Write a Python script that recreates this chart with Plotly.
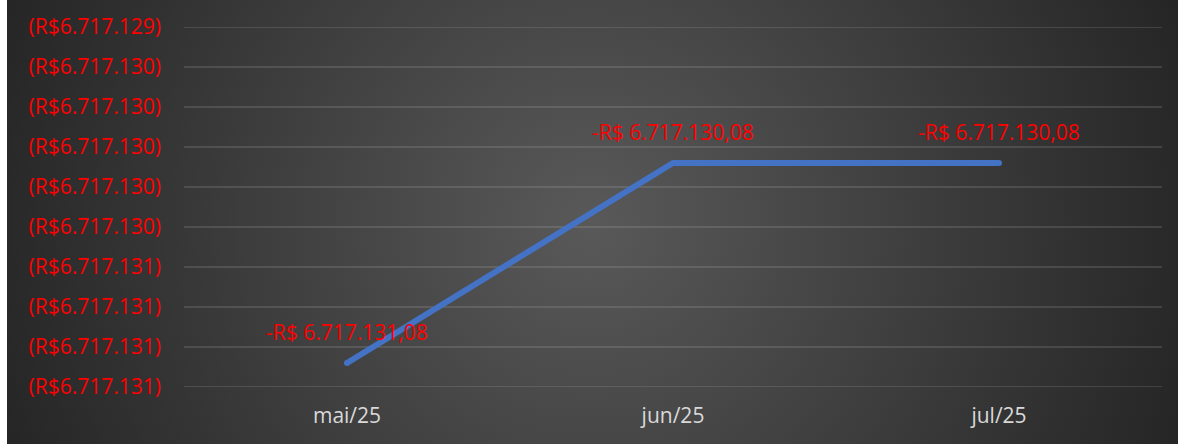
import base64
import plotly.graph_objects as go

# ---- data ----
months = ["mai/25", "jun/25", "jul/25"]
values = [-6717131.08, -6717130.08, -6717130.08]
y_min = -6717131.2
y_max = -6717129.4
y_step = 0.2

def fmt_tick(v):
    n = int(round(abs(v)))
    s = f"{n:,}".replace(",", ".")
    return f"(R${s})"

def fmt_label(v):
    s = f"{abs(v):,.2f}"
    s = s.replace(",", "X").replace(".", ",").replace("X", ".")
    return f"-R$ {s}"

n_ticks = int(round((y_max - y_min) / y_step)) + 1
tickvals = [y_min + i * y_step for i in range(n_ticks)]
ticktext = [fmt_tick(v) for v in tickvals]

W, H = 1178, 444
L, R, T, B = 184, 16, 25, 57
pw, ph = W - L - R, H - T - B

# radial gradient background as svg image (extends slightly past page edges)
BX0, BX1, BY0, BY1 = 7, W + 4, -4, H + 4
bw, bh = BX1 - BX0, BY1 - BY0
cx, cy = 590 - BX0, 222 - BY0
svg = (
    f'<svg xmlns="http://www.w3.org/2000/svg" width="{bw}" height="{bh}" viewBox="0 0 {bw} {bh}" preserveAspectRatio="none">'
    f'<defs><radialGradient id="g" gradientUnits="userSpaceOnUse" cx="{cx}" cy="{cy}" r="630">'
    '<stop offset="0" stop-color="#595959"/><stop offset="1" stop-color="#252525"/>'
    '</radialGradient></defs>'
    f'<rect x="0" y="0" width="{bw}" height="{bh}" fill="url(#g)"/></svg>'
)
src = "data:image/svg+xml;base64," + base64.b64encode(svg.encode()).decode()

x0 = (BX0 - L) / pw
x1 = (BX1 - L) / pw
ytop = (H - B - BY0) / ph
ybot = (H - B - BY1) / ph

fig = go.Figure()

# gridlines drawn at the tick values
for tv in tickvals:
    fig.add_shape(type="line", xref="paper", yref="y", x0=0, x1=1, y0=tv, y1=tv,
                  line=dict(color="rgba(200,200,200,0.22)", width=1.3), layer="below")

fig.add_trace(go.Scatter(
    x=months, y=values, mode="lines",
    line=dict(color="#4472C4", width=6),
    hoverinfo="skip", showlegend=False,
))
fig.add_trace(go.Scatter(
    x=[months[0], months[-1]], y=[values[0], values[-1]], mode="markers",
    marker=dict(color="#4472C4", size=6, line=dict(width=0)),
    hoverinfo="skip", showlegend=False,
))

for m, v in zip(months, values):
    fig.add_annotation(x=m, y=v, text=fmt_label(v), showarrow=False,
                       yshift=31, font=dict(color="#FF0000", size=21, family="Open Sans"))

fig.add_layout_image(dict(
    source=src, xref="paper", yref="paper", x=x0, y=ytop,
    sizex=x1 - x0, sizey=ytop - ybot, sizing="stretch",
    xanchor="left", yanchor="top", layer="below",
))

fig.update_layout(
    width=W, height=H,
    margin=dict(l=L, r=R, t=T, b=B, pad=0),
    paper_bgcolor="white",
    plot_bgcolor="rgba(0,0,0,0)",
    font=dict(family="Open Sans", size=21),
    xaxis=dict(
        type="category", range=[-0.5, 2.5], showgrid=False, zeroline=False,
        showline=False, ticks="", ticklabelstandoff=14,
        tickfont=dict(color="#D9D9D9", size=21),
    ),
    yaxis=dict(
        range=[y_min, y_max], tickvals=tickvals, ticktext=ticktext,
        showgrid=False, zeroline=False, showline=False, ticks="", ticklabelstandoff=22,
        tickfont=dict(color="#FF0000", size=21),
    ),
)

fig.write_html("out.html", config={"displayModeBar": False},
               post_script="document.body.style.margin='0';document.body.style.overflow='hidden';")
